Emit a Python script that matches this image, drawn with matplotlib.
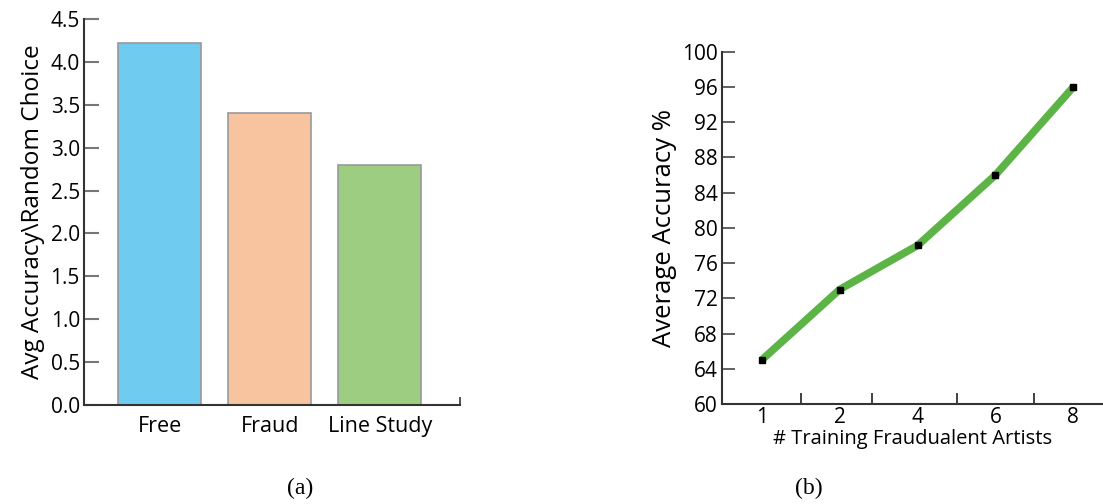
import matplotlib.pyplot as plt
from matplotlib.ticker import FixedLocator

plt.rcParams['font.family'] = ['Open Sans', 'DejaVu Sans']

# panel (a)
methods = ['Free', 'Fraud', 'Line Study']
ratio = [4.22, 3.40, 2.80]
bar_colors = ['#6fcbef', '#f8c39f', '#9dcd80']
yticks_a = [0.0, 0.5, 1.0, 1.5, 2.0, 2.5, 3.0, 3.5, 4.0, 4.5]

# panel (b)
n_train = ['1', '2', '4', '6', '8']
accuracy = [65, 73, 78, 86, 96]
yticks_b = [60, 64, 68, 72, 76, 80, 84, 88, 92, 96, 100]

fig = plt.figure(figsize=(11.03, 5.04), dpi=100)

ax1 = fig.add_axes([0.0762, 0.1964, 0.3407, 0.7659])
pos = list(range(len(methods)))
ax1.bar(pos, ratio, width=0.755, color=bar_colors, edgecolor='#999999', linewidth=1.2)
ax1.set_xlim(-0.686, 2.727)
ax1.set_ylim(0, 4.5)
ax1.set_yticks(yticks_a)
ax1.set_yticklabels(['%.1f' % v for v in yticks_a])
ax1.set_xticks(pos)
ax1.set_xticklabels(methods)
ax1.xaxis.set_minor_locator(FixedLocator([2.727]))
ax1.tick_params(axis='y', direction='in', length=11, width=1.5, color='#777777',
                labelsize=15, pad=3)
ax1.tick_params(axis='x', which='major', length=0, labelsize=15.5, pad=8)
ax1.tick_params(axis='x', which='minor', direction='in', length=6, width=1.2, color='#333333')
ax1.set_ylabel('Avg Accuracy\\Random Choice', fontsize=17.5, labelpad=4)
for s in ['top', 'right']:
    ax1.spines[s].set_visible(False)
for s in ['left', 'bottom']:
    ax1.spines[s].set_color('#333333')
    ax1.spines[s].set_linewidth(1.5)

ax2 = fig.add_axes([0.6546, 0.1984, 0.3454, 0.6990])
xi = list(range(len(n_train)))
ax2.plot(xi, accuracy, color='#5db446', linewidth=5.5, solid_capstyle='butt', zorder=2)
ax2.plot(xi, accuracy, linestyle='none', marker='s', markersize=5, color='black', zorder=3)
ax2.set_xlim(-0.51, 4.38)
ax2.set_ylim(60, 100)
ax2.set_yticks(yticks_b)
ax2.set_xticks(xi)
ax2.set_xticklabels(n_train)
ax2.xaxis.set_minor_locator(FixedLocator([0.5, 1.42, 2.5, 3.5]))
ax2.tick_params(axis='y', direction='in', length=9, width=1.3, color='#555555',
                labelsize=15, pad=3)
ax2.tick_params(axis='x', which='major', length=0, labelsize=15, pad=2)
ax2.tick_params(axis='x', which='minor', direction='in', length=8, width=1.3, color='#333333')
ax2.set_ylabel('Average Accuracy %', fontsize=18.5, labelpad=4)
ax2.set_xlabel('# Training Fraudualent Artists', fontsize=14.5, labelpad=1)
for s in ['top', 'right']:
    ax2.spines[s].set_visible(False)
for s in ['left', 'bottom']:
    ax2.spines[s].set_color('#333333')
    ax2.spines[s].set_linewidth(1.5)

fig.text(0.272, 0.02, '(a)', fontsize=17, family='Liberation Serif', ha='center')
fig.text(0.733, 0.02, '(b)', fontsize=17, family='Liberation Serif', ha='center')

fig.savefig('out.png', dpi=100)
